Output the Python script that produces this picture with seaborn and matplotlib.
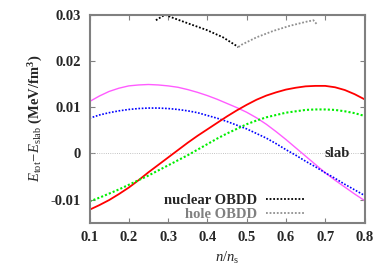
import numpy as np
import pandas as pd
import matplotlib
matplotlib.use("Agg")
import matplotlib.pyplot as plt
import seaborn as sns
from matplotlib.lines import Line2D

# density grid (n/n_s) for the four smooth curves, step 0.025
dens = [0.100, 0.125, 0.150, 0.175, 0.200, 0.225, 0.250, 0.275, 0.300, 0.325,
        0.350, 0.375, 0.400, 0.425, 0.450, 0.475, 0.500, 0.525, 0.550, 0.575,
        0.600, 0.625, 0.650, 0.675, 0.700, 0.725, 0.750, 0.775, 0.800]

magenta = [0.0112, 0.0124, 0.0134, 0.0141, 0.0146, 0.0148, 0.0149, 0.0148, 0.0146, 0.0143,
           0.0138, 0.0132, 0.0125, 0.0117, 0.0108, 0.0099, 0.0089, 0.0077, 0.0063, 0.0047,
           0.0030, 0.0012, -0.0006, -0.0024, -0.0042, -0.0058, -0.0073, -0.0088, -0.0102]
blue = [0.0076, 0.0083, 0.0088, 0.0092, 0.0095, 0.0097, 0.0098, 0.0098, 0.0097, 0.0095,
        0.0092, 0.0088, 0.0082, 0.0076, 0.0069, 0.0061, 0.0053, 0.0043, 0.0033, 0.0021,
        0.0008, -0.0004, -0.0017, -0.0029, -0.0042, -0.0054, -0.0067, -0.0079, -0.0091]
red = [-0.0122, -0.0112, -0.0101, -0.0088, -0.0074, -0.0058, -0.0041, -0.0025, -0.0009, 0.0007,
       0.0023, 0.0038, 0.0052, 0.0066, 0.0080, 0.0093, 0.0105, 0.0116, 0.0125, 0.0132,
       0.0138, 0.0142, 0.0145, 0.0146, 0.0146, 0.0143, 0.0137, 0.0128, 0.0117]
green = [-0.0104, -0.0096, -0.0087, -0.0078, -0.0068, -0.0058, -0.0048, -0.0037, -0.0026, -0.0015,
         -0.0004, 0.0008, 0.0020, 0.0032, 0.0043, 0.0053, 0.0063, 0.0071, 0.0078, 0.0083,
         0.0088, 0.0091, 0.0094, 0.0095, 0.0095, 0.0094, 0.0091, 0.0087, 0.0081]

# OBDD branches
nuc_x = [0.269, 0.292, 0.313, 0.355, 0.398, 0.440, 0.479]
nuc_y = [0.0288, 0.0300, 0.0293, 0.0280, 0.0267, 0.0251, 0.0230]
hole_x = [0.479, 0.487, 0.525, 0.568, 0.610, 0.653, 0.670, 0.678]
hole_y = [0.0230, 0.0235, 0.0251, 0.0265, 0.0276, 0.0285, 0.0288, 0.0280]

xticks = [0.1, 0.2, 0.3, 0.4, 0.5, 0.6, 0.7, 0.8]
yticks = [-0.01, 0, 0.01, 0.02, 0.03]
ytick_labels = ["-0.01", "0", "0.01", "0.02", "0.03"]

sns.set_style("ticks")
plt.rcParams["font.family"] = ["Liberation Serif", "DejaVu Serif"]
plt.rcParams["mathtext.fontset"] = "custom"
plt.rcParams["mathtext.rm"] = "Liberation Serif"
plt.rcParams["mathtext.it"] = "Liberation Serif:italic"
plt.rcParams["mathtext.bf"] = "Liberation Serif:bold"

fs = 10.5
grey = "#808080"

fig = plt.figure(figsize=(3.82, 2.67), dpi=100)
ax = fig.add_axes([89.5 / 382, 1 - 222.7 / 267, 275 / 382, 208 / 267])

df = pd.DataFrame({"n": dens, "magenta": magenta, "blue": blue, "red": red, "green": green})

ax.axhline(0, color="#b0b0b0", lw=0.6, ls=":", zorder=1)

sns.lineplot(data=df, x="n", y="magenta", color="#ff5cff", lw=1.0, ax=ax)
sns.lineplot(data=df, x="n", y="blue", color="#0000ff", lw=1.2, ls=(0, (1, 1)), ax=ax)
sns.lineplot(data=df, x="n", y="red", color="#ff0000", lw=1.3, ax=ax)
sns.lineplot(data=df, x="n", y="green", color="#00ee00", lw=1.5, ls=(0, (1, 1)), ax=ax)
sns.lineplot(x=nuc_x, y=nuc_y, color="black", lw=1.3, ls=(0, (1, 1)), ax=ax, sort=False)
sns.lineplot(x=hole_x, y=hole_y, color="#909090", lw=1.3, ls=(0, (1, 1)), ax=ax, sort=False)

ax.set_xlim(0.1, 0.8)
ax.set_ylim(-0.015, 0.03)
ax.set_xticks(xticks)
ax.set_xticklabels([f"{t:.1f}" for t in xticks], fontsize=fs, fontweight="bold")
ax.set_yticks(yticks)
ax.set_yticklabels(ytick_labels, fontsize=fs, fontweight="bold")
ax.tick_params(direction="in", length=3.5, width=0.8, color=grey, top=True, right=True, pad=6)
for sp in ax.spines.values():
    sp.set_color(grey)
    sp.set_linewidth(1.5)

ax.set_xlabel(r"$n/n_{\rm s}$", fontsize=fs, labelpad=4)
ax.set_ylabel(r"$E_{\rm tot}\!-\!E_{\rm slab}$ $\mathbf{(MeV/fm^{3})}$", fontsize=fs, labelpad=4)

ax.text(0.763, 0, "slab", fontsize=fs, fontweight="bold", ha="right", va="center")

handles = [Line2D([], [], color="black", lw=1.3, ls=(0, (1, 1))),
           Line2D([], [], color="#909090", lw=1.3, ls=(0, (1, 1)))]
leg = ax.legend(handles, ["nuclear OBDD", "hole OBDD"], loc="lower right",
                bbox_to_anchor=(0.78, 0.01), markerfirst=False, frameon=False,
                handlelength=2.6, handletextpad=0.6, labelspacing=0.0,
                borderpad=0, borderaxespad=0, prop={"size": fs, "weight": "bold"})
leg.get_texts()[1].set_color(grey)

fig.savefig("out.png", dpi=100)
